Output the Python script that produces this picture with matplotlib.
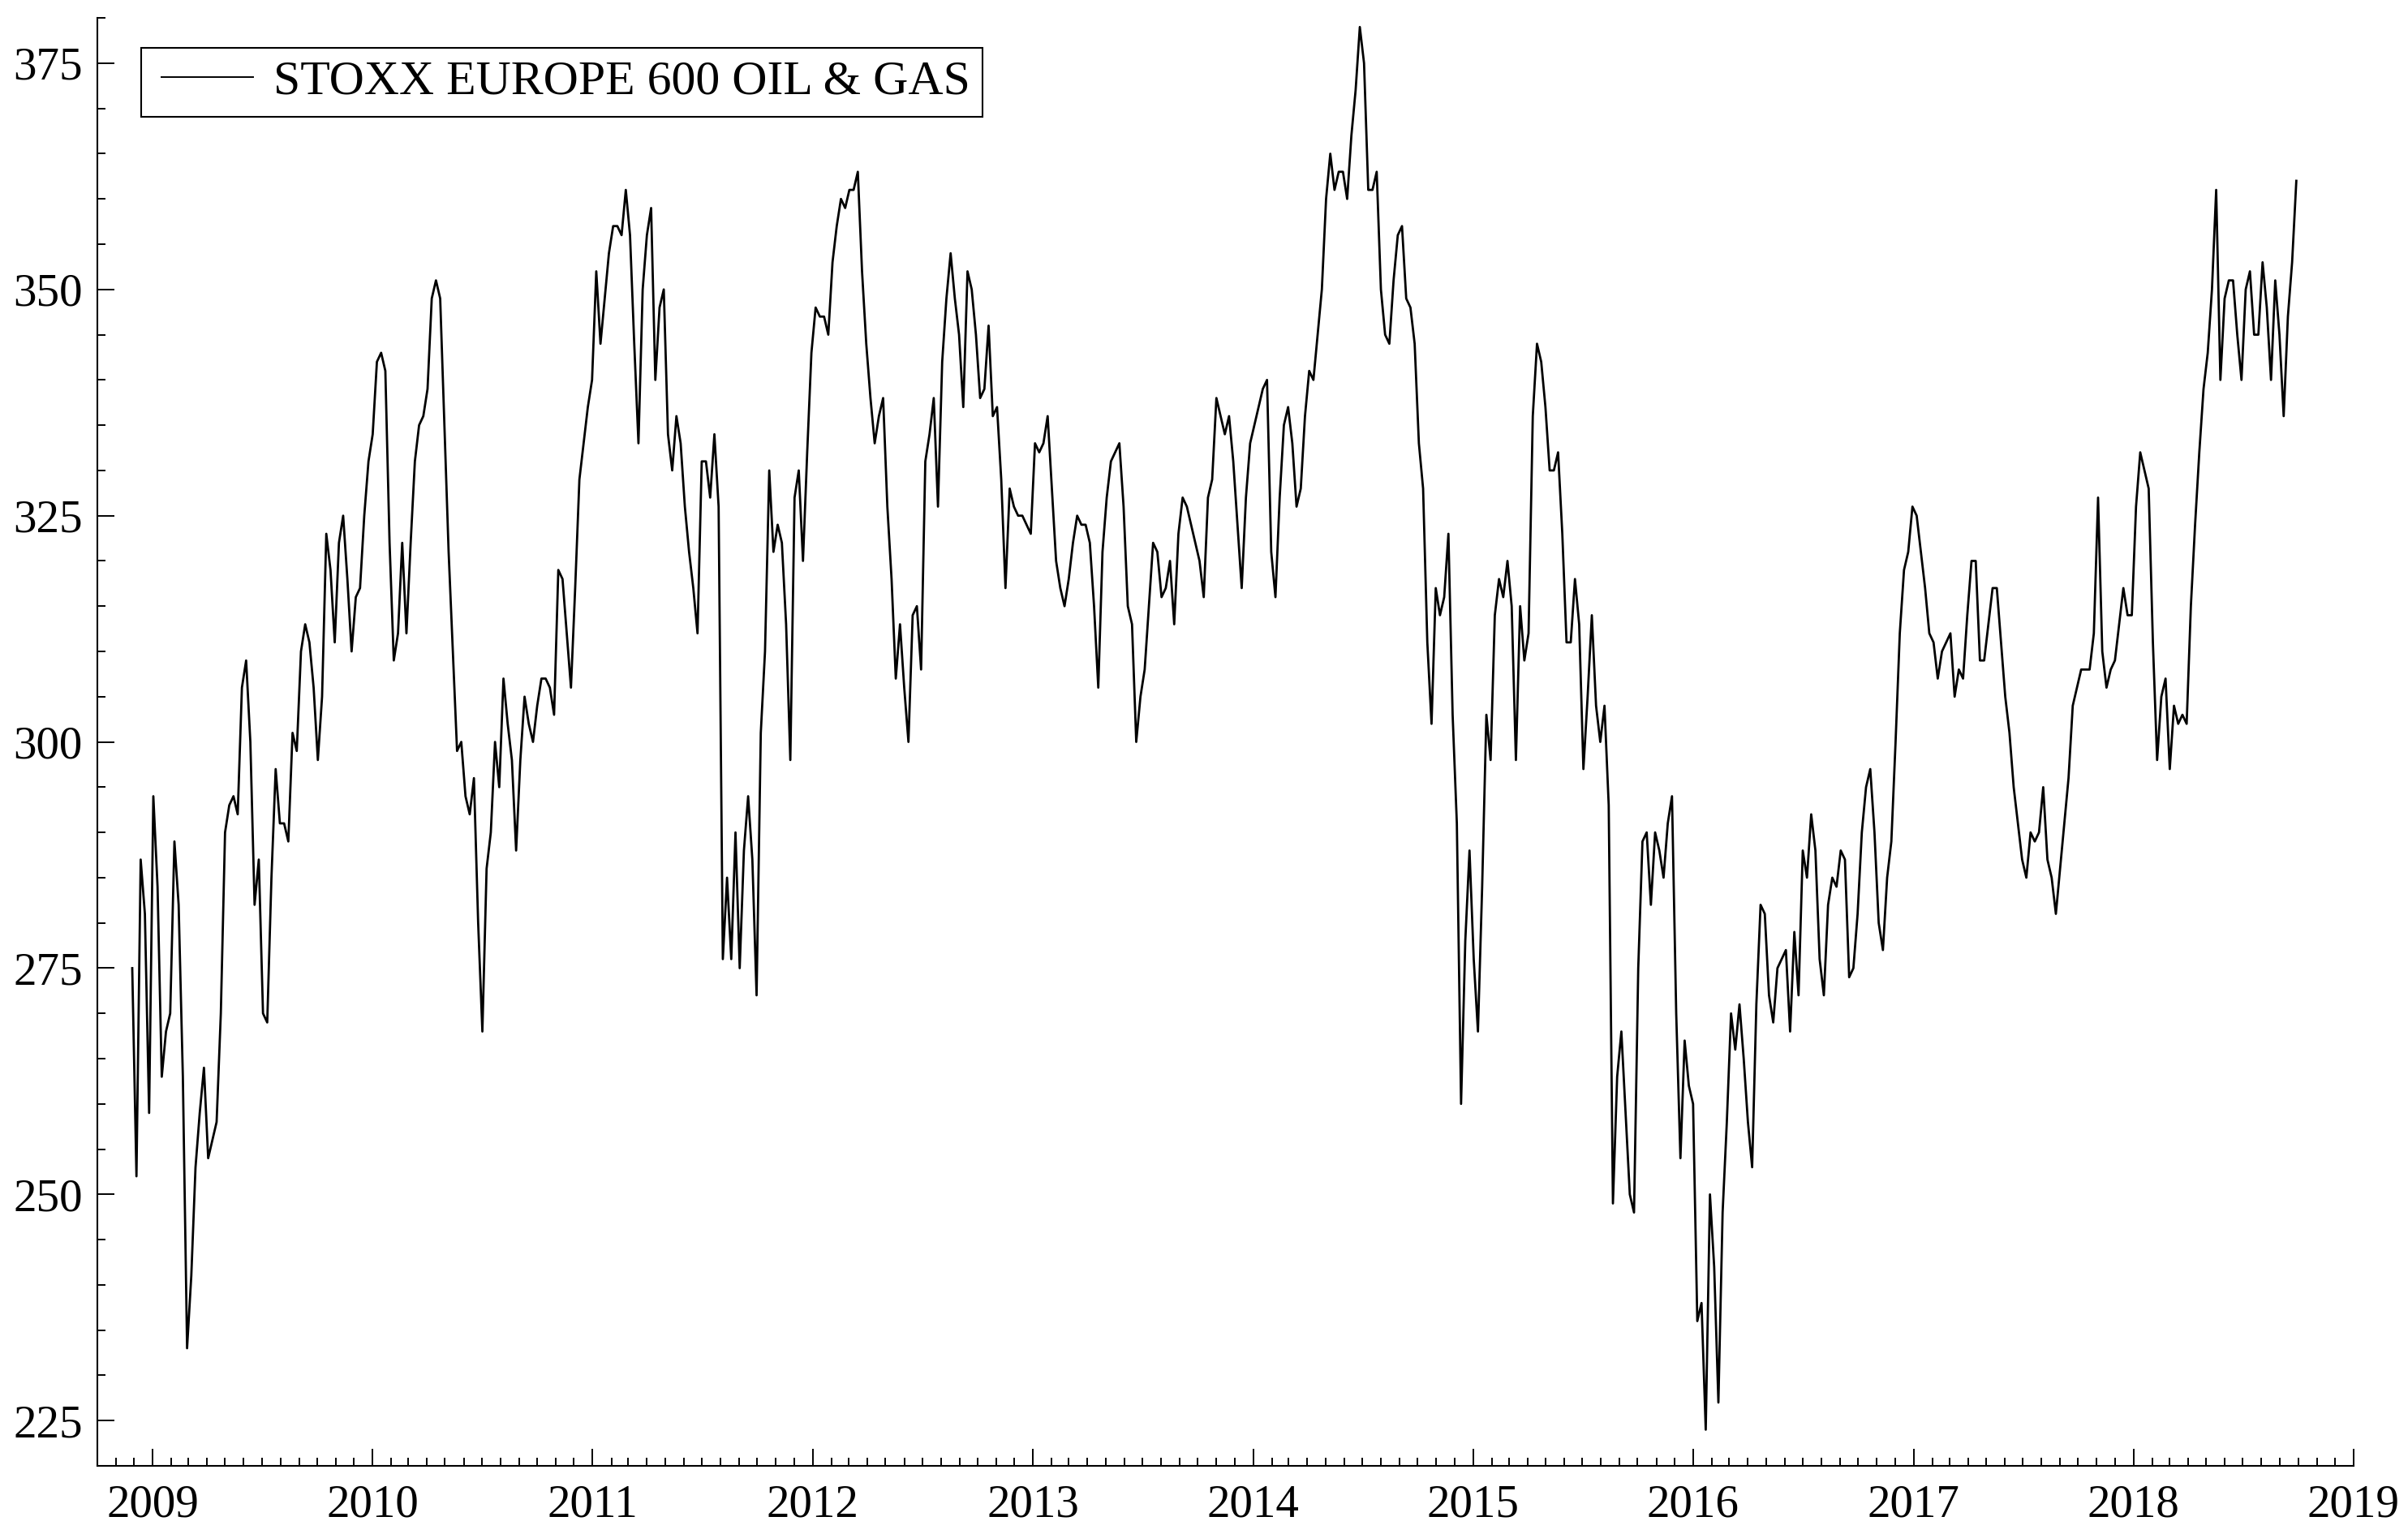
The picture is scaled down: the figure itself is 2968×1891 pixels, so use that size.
import matplotlib
matplotlib.use('Agg')
import matplotlib.pyplot as plt
import matplotlib.dates as mdates
from matplotlib.ticker import MultipleLocator
import numpy as np
import pandas as pd
from datetime import datetime

plt.rcParams['font.family'] = ['Liberation Serif', 'DejaVu Serif']

SERIES_LABEL = 'STOXX EUROPE 600 OIL & GAS'

# weekly (Friday) index levels, one list per year
v2008 = [275, 252, 287, 281, 259]
v2009 = [294, 284, 263, 268, 270, 289, 282, 263, 233, 241, 253, 259, 264,
         254, 256, 258, 270, 290, 293, 294, 292, 306, 309, 300, 282, 287,
         270, 269, 285, 297, 291, 291, 289, 301, 299, 310, 313, 311, 306,
         298, 305, 323, 319, 311, 322, 325, 318, 310, 316, 317, 325, 331]
v2010 = [334, 342, 343, 341, 322, 309, 312, 322, 312, 322, 331, 335, 336,
         339, 349, 351, 349, 335, 321, 310, 299, 300, 294, 292, 296, 280,
         268, 286, 290, 300, 295, 307, 302, 298, 288, 298, 305, 302, 300,
         304, 307, 307, 306, 303, 319, 318, 312, 306, 317, 329, 333, 337,
         340]
v2011 = [352, 344, 349, 354, 357, 357, 356, 361, 356, 344, 333, 350, 356,
         359, 340, 348, 350, 334, 330, 336, 333, 326, 321, 317, 312, 331,
         331, 327, 334, 326, 276, 285, 276, 290, 275, 288, 294, 287, 272,
         301, 310, 330, 321, 324, 322, 313, 298, 327, 330, 320, 332, 343]
v2012 = [348, 347, 347, 345, 353, 357, 360, 359, 361, 361, 363, 352, 344,
         338, 333, 336, 338, 326, 318, 307, 313, 306, 300, 314, 315, 308,
         331, 334, 338, 326, 342, 349, 354, 349, 345, 337, 352, 350, 345,
         338, 339, 346, 336, 337, 329, 317, 328, 326, 325, 325, 324, 323]
v2013 = [333, 332, 333, 336, 328, 320, 317, 315, 318, 322, 325, 324, 324,
         322, 315, 306, 321, 327, 331, 332, 333, 326, 315, 313, 300, 305,
         308, 315, 322, 321, 316, 317, 320, 313, 323, 327, 326, 324, 322,
         320, 316, 327, 329, 338, 336, 334, 336, 331, 324, 317, 327, 333]
v2014 = [335, 337, 339, 340, 321, 316, 327, 335, 337, 333, 326, 328, 336,
         341, 340, 345, 350, 360, 365, 361, 363, 363, 360, 367, 372, 379,
         375, 361, 361, 363, 350, 345, 344, 351, 356, 357, 349, 348, 344,
         333, 328, 311, 302, 317, 314, 316, 323, 303, 291, 260, 278, 288]
v2015 = [276, 268, 284, 303, 298, 314, 318, 316, 320, 315, 298, 315, 309,
         312, 336, 344, 342, 337, 330, 330, 332, 323, 311, 311, 318, 313,
         297, 305, 314, 304, 300, 304, 293, 249, 263, 268, 259, 250, 248,
         275, 289, 290, 282, 290, 288, 285, 291, 294, 270, 254, 267, 262]
v2016 = [260, 236, 238, 224, 250, 242, 227, 248, 258, 270, 266, 271, 265,
         258, 253, 271, 282, 281, 272, 269, 275, 276, 277, 268, 279, 272,
         288, 285, 292, 288, 276, 272, 282, 285, 284, 288, 287, 274, 275,
         281, 290, 295, 297, 290, 280, 277, 285, 289, 300, 312, 319, 321,
         326]
v2017 = [325, 321, 317, 312, 311, 307, 310, 311, 312, 305, 308, 307, 314,
         320, 320, 309, 309, 313, 317, 317, 311, 305, 301, 295, 291, 287,
         285, 290, 289, 290, 295, 287, 285, 281, 286, 291, 296, 304, 306,
         308, 308, 308, 312, 327, 310, 306, 308, 309, 313, 317, 314, 314]
v2018 = [326, 332, 330, 328, 311, 298, 305, 307, 297, 304, 302, 303, 302,
         315, 324, 332, 339, 343, 350, 361, 340, 349, 351, 351, 345, 340,
         350, 352, 345, 345, 353, 348, 340, 351, 345, 336, 347, 353, 362]

first_fridays = ['2008-11-28', '2009-01-02', '2010-01-01', '2011-01-07',
                 '2012-01-06', '2013-01-04', '2014-01-03', '2015-01-02',
                 '2016-01-01', '2017-01-06', '2018-01-05']
yearly = [v2008, v2009, v2010, v2011, v2012, v2013, v2014, v2015, v2016,
          v2017, v2018]

parts = []
for start, vals in zip(first_fridays, yearly):
    idx = pd.date_range(start, periods=len(vals), freq='7D')
    parts.append(pd.Series(vals, index=idx))
series = pd.concat(parts)

fig = plt.figure(figsize=(29.68, 18.91), dpi=100)
ax = fig.add_axes([0.0404, 0.0444, 0.9370, 0.9439])

ax.plot(series.index, series.values, color='black', lw=2.0,
        label=SERIES_LABEL)

ax.set_xlim(datetime(2008, 10, 1), datetime(2019, 1, 1))
ax.set_ylim(220, 380)

ax.xaxis.set_major_locator(mdates.YearLocator())
ax.xaxis.set_minor_locator(mdates.MonthLocator())
ax.xaxis.set_major_formatter(mdates.DateFormatter('%Y'))
ax.yaxis.set_major_locator(MultipleLocator(25))
ax.yaxis.set_minor_locator(MultipleLocator(5))

for side in ['top', 'right']:
    ax.spines[side].set_visible(False)
for side in ['left', 'bottom']:
    ax.spines[side].set_linewidth(1.5)

ax.tick_params(which='both', direction='in', width=1.4, colors='black',
               top=False, right=False)
ax.tick_params(which='major', length=15)
ax.tick_params(which='minor', length=7)
ax.tick_params(axis='x', which='major', labelsize=41, pad=16)
ax.tick_params(axis='y', which='major', labelsize=41, pad=13)

leg = ax.legend(loc='upper left', bbox_to_anchor=(0.0194, 0.9793),
                borderaxespad=0, fontsize=43, fancybox=False,
                borderpad=0.25, handlelength=2.06, handletextpad=0.42,
                framealpha=1)
leg.get_frame().set_edgecolor('black')
leg.get_frame().set_linewidth(1.5)
# sample line starts a little in from the frame, as in the original
legline = leg.get_lines()[0]
legline.set_linewidth(1.4)
xd = np.array(legline.get_xdata(), dtype=float)
xd[0] += 7.5
legline.set_xdata(xd)

plt.savefig('out.png', dpi=100)
plt.close()
